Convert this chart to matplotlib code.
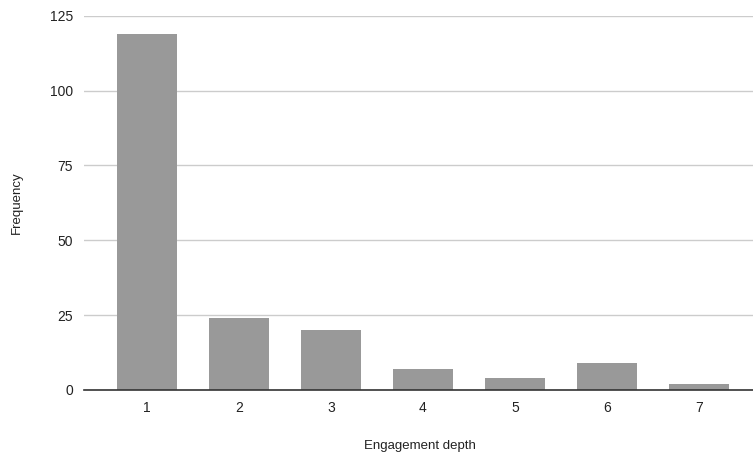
import matplotlib.pyplot as plt

plt.rcParams['font.family'] = ['Liberation Sans', 'DejaVu Sans']

depths = ['1', '2', '3', '4', '5', '6', '7']
freq = [119, 24, 20, 7, 4, 9, 2]
y_ticks = [0, 25, 50, 75, 100, 125]

fig = plt.figure(figsize=(7.53, 4.54), dpi=100)
ax = fig.add_axes([0.1116, 0.141, 0.8884, 0.8244])

x = list(range(1, len(depths) + 1))
ax.bar(x, freq, width=0.65, color='#999999', zorder=3)

ax.set_xlim(0.315, 7.59)
ax.set_ylim(0, 125)
ax.set_xticks(x)
ax.set_xticklabels(depths)
ax.set_yticks(y_ticks)
ax.grid(axis='y', color='#cccccc', linewidth=1, zorder=0)

for s in ['top', 'right', 'left']:
    ax.spines[s].set_visible(False)
ax.spines['bottom'].set_color('#333333')
ax.spines['bottom'].set_linewidth(1.2)
ax.spines['bottom'].set_zorder(4)

ax.tick_params(axis='both', length=0, labelsize=10, labelcolor='#222222')
ax.tick_params(axis='x', pad=8)
ax.tick_params(axis='y', pad=8)

fig.text(0.558, 0.0176, 'Engagement depth', ha='center', va='center',
         fontsize=9.5, color='#222222')
fig.text(0.023, 0.553, 'Frequency', ha='center', va='center',
         rotation=90, fontsize=9.5, color='#222222')

fig.savefig('out.png', dpi=100)
